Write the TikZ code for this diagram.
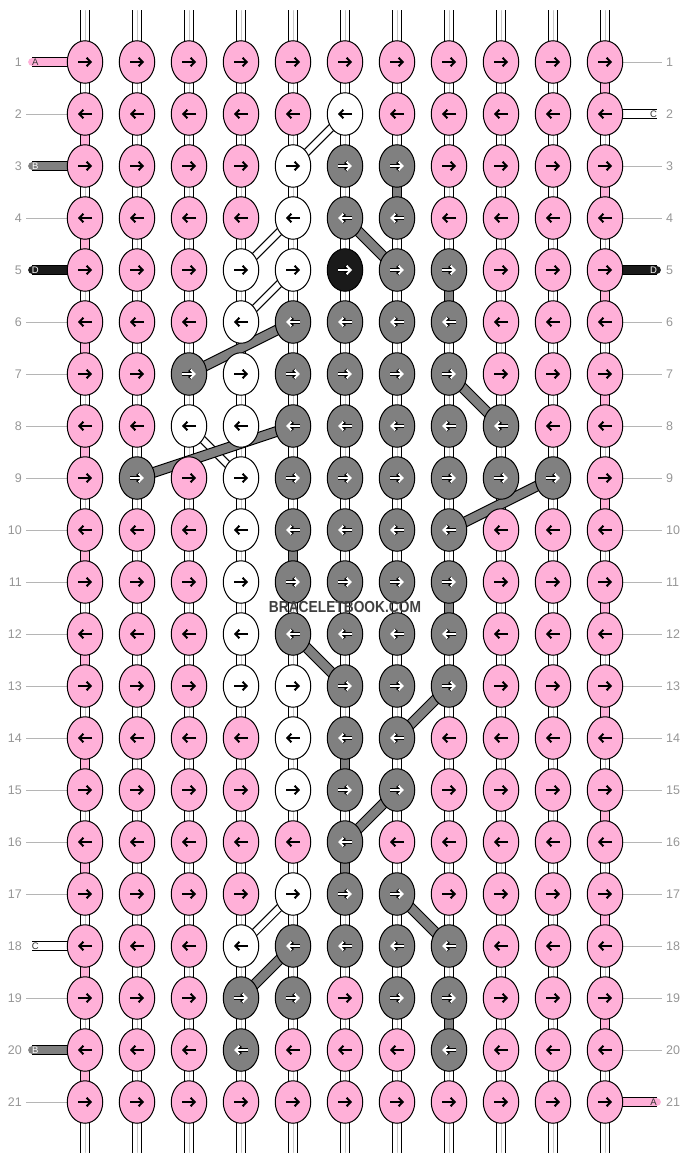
\documentclass[tikz,border=0pt]{standalone}
\usepackage{fontspec}
\setmainfont{Liberation Sans}
\usetikzlibrary{shapes.geometric,arrows.meta}
\pgfdeclarelayer{bg}
\pgfsetlayers{bg,main}
\definecolor{knotpink}{RGB}{255,176,216}
\definecolor{knotgray}{RGB}{128,128,128}
\definecolor{knotblack}{RGB}{26,26,26}
\definecolor{numgray}{RGB}{150,150,150}
\tikzstyle{knot} = [ellipse, draw, line width=1pt, minimum width=35.5pt, minimum height=42.5pt, inner sep=0pt]
\tikzstyle{knotp} = [knot, fill=knotpink]
\tikzstyle{knotw} = [knot, fill=white]
\tikzstyle{knotg} = [knot, fill=knotgray]
\tikzstyle{knotk} = [knot, fill=knotblack]
\tikzstyle{arrow_dark} = [line width=2pt, -{Straight Barb[length=4pt,width=8.5pt]}]
\tikzstyle{arrow_light} = [white, line width=2pt, preaction={draw=black, line width=3.6pt}, -{Straight Barb[length=4pt,width=8.5pt]}]
\tikzstyle{arrp} = [arrow_dark]
\tikzstyle{arrw} = [arrow_dark]
\tikzstyle{arrg} = [arrow_light]
\tikzstyle{arrk} = [arrow_light]
\tikzstyle{warp} = [draw=white, line width=8.6pt, preaction={draw=black, line width=10.8pt}, postaction={draw=black!22, line width=0.8pt}]
\tikzstyle{band} = [line width=8.6pt, preaction={draw=black, line width=10.8pt}]
\tikzstyle{weft} = [draw=knotpink, line width=9.4pt, preaction={draw=black, line width=11.6pt}]
\tikzstyle{cross} = [draw=white, line width=6pt, preaction={draw=black, line width=8.2pt}]
\tikzstyle{stub} = [band, line cap=round]
\tikzstyle{stublabel} = [font=\fontsize{9.5}{10}\selectfont, inner sep=0pt]
\tikzstyle{rownum} = [font=\fontsize{12.5}{13}\selectfont, text=numgray, inner sep=0pt]
\tikzstyle{edgeline} = [draw=numgray!70, line width=0.8pt]

\begin{document}
\begin{tikzpicture}[x=1pt, y=-1pt]
    \useasboundingbox (0,0) rectangle (688,1164);

    % knots, row by row
    \foreach \r/\row in {1/{p,p,p,p,p,p,p,p,p,p,p}, 2/{p,p,p,p,p,w,p,p,p,p,p},
            3/{p,p,p,p,w,g,g,p,p,p,p}, 4/{p,p,p,p,w,g,g,p,p,p,p},
            5/{p,p,p,w,w,k,g,g,p,p,p}, 6/{p,p,p,w,g,g,g,g,p,p,p},
            7/{p,p,g,w,g,g,g,g,p,p,p}, 8/{p,p,w,w,g,g,g,g,g,p,p},
            9/{p,g,p,w,g,g,g,g,g,g,p}, 10/{p,p,p,w,g,g,g,g,p,p,p},
            11/{p,p,p,w,g,g,g,g,p,p,p}, 12/{p,p,p,w,g,g,g,g,p,p,p},
            13/{p,p,p,w,w,g,g,g,p,p,p}, 14/{p,p,p,p,w,g,g,p,p,p,p},
            15/{p,p,p,p,w,g,g,p,p,p,p}, 16/{p,p,p,p,p,g,p,p,p,p,p},
            17/{p,p,p,p,w,g,g,p,p,p,p}, 18/{p,p,p,w,g,g,g,g,p,p,p},
            19/{p,p,p,g,g,p,g,g,p,p,p}, 20/{p,p,p,g,p,p,p,g,p,p,p},
            21/{p,p,p,p,p,p,p,p,p,p,p}} {
        \pgfmathtruncatemacro\dir{1-2*mod(\r+1,2)}
        \foreach \kc [count=\c] in \row {
            \node[knot\kc] (k-\r-\c) at ({85+52*(\c-1)}, {62+52*(\r-1)}) {};
            \draw[arr\kc] ([xshift=-7*\dir]k-\r-\c.center) -- ([xshift=7*\dir]k-\r-\c.center);
        }
        \node[rownum, anchor=east] (nl-\r) at (22, {62+52*(\r-1)}) {\r};
        \node[rownum, anchor=west] (nr-\r) at (666, {62+52*(\r-1)}) {\r};
    }

    \begin{pgfonlayer}{bg}
        % warp strings
        \foreach \c in {1,...,11} {
            \coordinate (top-\c) at ({85+52*(\c-1)}, 10.5);
            \coordinate (bot-\c) at ({85+52*(\c-1)}, 1152.5);
            \draw[warp, line cap=round] (top-\c) -- (k-1-\c.center);
            \draw[warp, line cap=round] (k-21-\c.center) -- (bot-\c);
        }
        \foreach \r [evaluate=\r as \s using int(\r+1)] in {1,...,20}
            \foreach \c in {1,...,11}
                \draw[warp] (k-\r-\c.center) -- (k-\s-\c.center);
        % carried threads
        \foreach \r in {2,4,...,20}
            \draw[band, draw=knotpink] (k-\r-1.center) -- (k-\the\numexpr\r+1\relax-1.center);
        \foreach \r in {1,3,...,19}
            \draw[band, draw=knotpink] (k-\r-11.center) -- (k-\the\numexpr\r+1\relax-11.center);
        \foreach \r/\c in {3/7, 5/8, 10/5, 11/8, 14/6, 16/6, 19/8}
            \draw[band, draw=knotgray] (k-\r-\c.center) -- (k-\the\numexpr\r+1\relax-\c.center);
        % rows
        \foreach \r in {1,...,21}
            \foreach \c [evaluate=\c as \d using int(\c+1)] in {1,...,10}
                \draw[weft] (k-\r-\c.center) -- (k-\r-\d.center);
        % diagonals
        \draw[cross] (k-2-6.center) -- (k-3-5.center);
        \draw[cross] (k-4-5.center) -- (k-5-4.center);
        \draw[cross] (k-5-5.center) -- (k-6-4.center);
        \draw[cross] (k-8-3.center) -- (k-9-4.center);
        \draw[cross] (k-17-5.center) -- (k-18-4.center);
        \draw[band, draw=knotgray] (k-4-6.center) -- (k-5-7.center);
        \draw[band, draw=knotgray] (k-6-5.center) -- (k-7-3.center);
        \draw[band, draw=knotgray] (k-7-8.center) -- (k-8-9.center);
        \draw[band, draw=knotgray] (k-8-5.center) -- (k-9-2.center);
        \draw[band, draw=knotgray] (k-9-10.center) -- (k-10-8.center);
        \draw[band, draw=knotgray] (k-12-5.center) -- (k-13-6.center);
        \draw[band, draw=knotgray] (k-13-8.center) -- (k-14-7.center);
        \draw[band, draw=knotgray] (k-15-7.center) -- (k-16-6.center);
        \draw[band, draw=knotgray] (k-17-7.center) -- (k-18-8.center);
        \draw[band, draw=knotgray] (k-18-5.center) -- (k-19-4.center);
        % thread ends
        \foreach \r/\col in {1/knotpink, 3/knotgray, 5/knotblack, 18/white, 20/knotgray} {
            \coordinate (sl-\r) at (32.4, {62+52*(\r-1)});
            \draw[stub, draw=\col] (sl-\r) -- (k-\r-1.center);
        }
        \foreach \r/\col in {2/white, 5/knotblack, 21/knotpink} {
            \coordinate (sr-\r) at (656.6, {62+52*(\r-1)});
            \draw[stub, draw=\col] (sr-\r) -- (k-\r-11.center);
        }
        \foreach \r in {2,4,6,7,8,9,10,11,12,13,14,15,16,17,19,21}
            \draw[edgeline, shorten <=4pt] (nl-\r.east) -- (k-\r-1.west);
        \foreach \r in {1,3,4,6,7,8,9,10,11,12,13,14,15,16,17,18,19,20}
            \draw[edgeline, shorten >=4pt] (k-\r-11.east) -- (nr-\r.west);
    \end{pgfonlayer}

    \foreach \r/\txt/\tc in {1/A/black!80, 3/B/white, 5/D/white, 18/C/black!80, 20/B/white}
        \node[stublabel, text=\tc] (tl-\r) at ([xshift=3pt]sl-\r) {\txt};
    \foreach \r/\txt/\tc in {2/C/black!80, 5/D/white, 21/A/black!80}
        \node[stublabel, text=\tc] (tr-\r) at ([xshift=-3pt]sr-\r) {\txt};

    \node (brand) at (345,607) {\scalebox{0.86}[1]{\fontsize{16}{16}\selectfont\bfseries\color{black!75}BRACELETBOOK.COM}};
\end{tikzpicture}
\end{document}
